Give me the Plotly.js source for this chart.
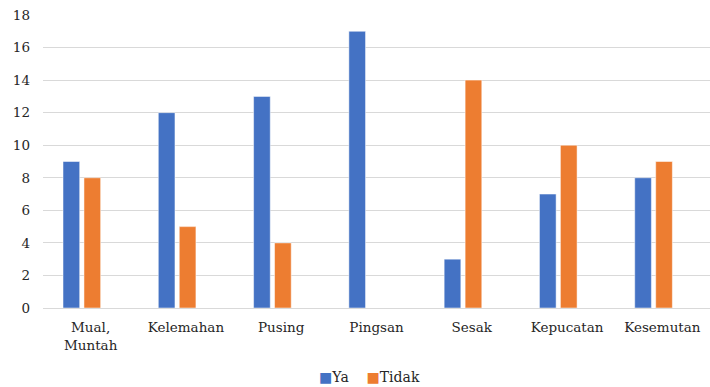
<!DOCTYPE html>
<html>
<head>
<meta charset="utf-8">
<script src="https://cdn.plot.ly/plotly-3.0.1.min.js"></script>
<style>html,body{margin:0;padding:0;background:#fff;}#chart{width:710px;height:387px;}</style>
</head>
<body>
<div id="chart"></div>
<script>
var categories = ["Mual,<br>Muntah", "Kelemahan", "Pusing", "Pingsan", "Sesak", "Kepucatan", "Kesemutan"];
var yaValues = [9, 12, 13, 17, 3, 7, 8];
var tidakValues = [8, 5, 4, 0, 14, 10, 9];
var yTicks = [0, 2, 4, 6, 8, 10, 12, 14, 16, 18];
var seriesNames = ["Ya", "Tidak"];
var seriesColors = ["#4472C4", "#ED7D31"];

var fam = "DejaVu Serif";
var font = {family: fam, size: 13.5, color: "#262626"};

var traces = [
  {type: "bar", name: seriesNames[0], x: categories, y: yaValues,
   marker: {color: seriesColors[0], line: {color: "#ffffff", width: 0.5}},
   width: 0.175, offset: -0.29, showlegend: false},
  {type: "bar", name: seriesNames[1], x: categories, y: tidakValues,
   marker: {color: seriesColors[1], line: {color: "#ffffff", width: 0.5}},
   width: 0.175, offset: -0.07, showlegend: false}
];

var legendText = seriesNames.map(function (n, i) {
  return "<span style='color:" + seriesColors[i] + "'>■</span>" + n;
}).join("&nbsp;&nbsp;&nbsp;&nbsp;");

var layout = {
  width: 710, height: 387,
  margin: {l: 43, r: 0, t: 15, b: 79},
  paper_bgcolor: "#ffffff", plot_bgcolor: "#ffffff",
  font: font,
  barmode: "group",
  showlegend: false,
  annotations: [{text: legendText, xref: "paper", yref: "paper", x: 0.49, y: -0.237,
                 xanchor: "center", yanchor: "middle", showarrow: false,
                 font: {family: fam, size: 14, color: "#262626"}}],
  xaxis: {type: "category", showgrid: false, zeroline: false, showline: true,
          linecolor: "#d9d9d9", linewidth: 1, ticks: "", tickfont: font,
          ticklabelstandoff: 7, automargin: false},
  yaxis: {range: [0, 18], tickvals: yTicks, ticktext: yTicks.map(String), showgrid: true,
          gridcolor: "#d9d9d9", gridwidth: 1, zeroline: false, showline: false, ticks: "",
          tickfont: font, ticklabelstandoff: 12, automargin: false}
};

Plotly.newPlot("chart", traces, layout, {displayModeBar: false, staticPlot: true});
</script>
</body>
</html>
